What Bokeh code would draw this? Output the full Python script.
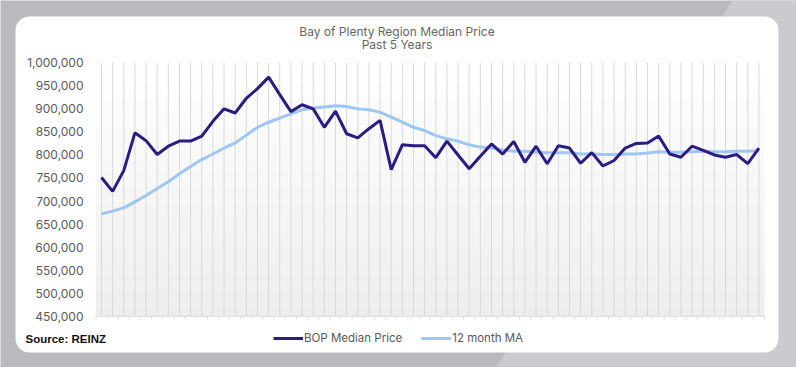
import numpy as np
from bokeh.plotting import figure
from bokeh.models import Range1d, Label, Legend, LegendItem, ColumnDataSource, BoxAnnotation, PolyAnnotation
from bokeh.core.properties import value
from bokeh.embed import file_html
from bokeh.resources import INLINE

# ---- data ----
months = list(range(60))
bop_median = [751000, 721000, 766000, 848000, 831000, 801000, 819000, 830000, 830000, 841000,
              873000, 900000, 891000, 923000, 944000, 969000, 931000, 894000, 909000, 900000,
              860000, 895000, 846000, 837000, 857000, 875000, 768000, 822000, 820000, 820000,
              794000, 830000, 800000, 770000, 797000, 824000, 802000, 829000, 784000, 819000,
              781000, 820000, 815000, 782000, 805000, 776000, 788000, 815000, 825000, 826000,
              841000, 802000, 795000, 819000, 810000, 800000, 795000, 801000, 781000, 815000]
ma_12 = [672000, 678000, 685000, 698000, 712000, 727000, 742000, 759000, 775000, 790000,
         802000, 815000, 826000, 843000, 860000, 871000, 880000, 889000, 898000, 902000,
         904000, 907000, 905000, 900000, 898000, 893000, 882000, 871000, 860000, 853000,
         842000, 835000, 830000, 822000, 817000, 815000, 811000, 808000, 808000, 806000,
         805000, 805000, 805000, 802000, 802000, 801000, 801000, 802000, 802000, 804000,
         807000, 806000, 806000, 807000, 808000, 807000, 807000, 808000, 808000, 809000]
y_ticks = [450000, 500000, 550000, 600000, 650000, 700000, 750000, 800000, 850000, 900000, 950000, 1000000]
y_tick_labels = [f"{v:,}" for v in y_ticks]
title_lines = ["Bay of Plenty Region Median Price", "Past 5 Years"]
series_names = ["BOP Median Price", "12 month MA"]
source_text = "Source: REINZ"

FONT = "Inter"
W, H = 796, 367
n = len(months)
y0, y1 = y_ticks[0], y_ticks[-1]

# ---- pixel geometry of the plotting area inside the canvas ----
PL, PR, PT, PB = 95.4, 764.0, 62.3, 315.7
ppx = (PR - PL) / n                 # pixels per month
vpp = (y1 - y0) / (PB - PT)         # value per pixel
xr0 = -0.5 - PL / ppx
xr1 = xr0 + W / ppx
yr1 = y1 + PT * vpp
yr0 = yr1 - H * vpp


def X(px):
    return xr0 + px / ppx


def Y(py):
    return yr1 - py * vpp


p = figure(width=W, height=H, output_backend="svg", toolbar_location=None,
           x_range=Range1d(xr0, xr1), y_range=Range1d(yr0, yr1),
           x_axis_location=None, y_axis_location=None,
           min_border=0, min_border_left=0, min_border_right=0,
           min_border_top=0, min_border_bottom=0)
p.border_fill_color = "#bab9be"
p.background_fill_color = "#bab9be"
p.outline_line_color = None
p.grid.visible = False

# lighter diagonal band of the page background
p.add_layout(PolyAnnotation(xs=[X(492), X(W + 5), X(W + 5), X(735)],
                            ys=[Y(H + 5), Y(H + 5), Y(-5), Y(-5)],
                            fill_color="#cbcace", fill_alpha=1, line_color=None, level="image"))

# white card
p.add_layout(BoxAnnotation(left=X(15), right=X(778), top=Y(16), bottom=Y(352),
                           fill_color="white", fill_alpha=1, line_color=None,
                           border_radius=14, level="image"))

# plot-area gradient (white at top -> light grey at bottom)
rows = 64
img = np.zeros((rows, 1), dtype=np.uint32)
view = img.view(dtype=np.uint8).reshape((rows, 1, 4))
for r in range(rows):
    t = r / (rows - 1)  # 0 bottom, 1 top
    g = int(round(238 + (255 - 238) * t))
    view[r, 0, :] = [g, g, g, 255]
gr = p.image_rgba(image=[img], x=-0.5, y=y0, dw=n, dh=y1 - y0)
gr.level = "underlay"

# vertical grid lines at each month
p.segment(x0=months, y0=[y0] * n, x1=months, y1=[y1] * n, line_color="#d9d9d9", line_width=1)
# category axis line and boundary ticks
bounds = [m - 0.5 for m in months] + [n - 0.5]
p.segment(x0=[bounds[0]], y0=[y0], x1=[bounds[-1]], y1=[y0], line_color="#d9d9d9", line_width=1)
p.segment(x0=bounds, y0=[y0] * len(bounds), x1=bounds, y1=[y0 - 3 * vpp] * len(bounds),
          line_color="#d9d9d9", line_width=1)

# y tick labels
p.text(x=[X(83)] * len(y_ticks), y=y_ticks, text=y_tick_labels, text_align="right",
       text_baseline="middle", text_font=value(FONT), text_font_size="12px", text_color="#595959")

src = ColumnDataSource(dict(x=months, bop=bop_median, ma=ma_12))
r_ma = p.line("x", "ma", source=src, line_color="#9ec6f3", line_width=3)
r_bop = p.line("x", "bop", source=src, line_color="#2d1b84", line_width=3)

# titles
for line_text, py in zip(title_lines, [31, 44.3]):
    p.add_layout(Label(x=X(396.5), y=Y(py), text=line_text, text_align="center",
                       text_baseline="middle", text_font=FONT, text_font_size="12px",
                       text_color="#666666"))

# source
p.add_layout(Label(x=X(25), y=Y(338), text=source_text, text_align="left",
                   text_baseline="middle", text_font="Liberation Sans", text_font_style="bold",
                   text_font_size="11.5px", text_color="#111111"))

legend = Legend(items=[LegendItem(label=series_names[0], renderers=[r_bop]),
                       LegendItem(label=series_names[1], renderers=[r_ma])],
                orientation="horizontal", location=(273, H - 345),
                label_text_font=FONT, label_text_font_size="11.5px", label_text_color="#595959",
                glyph_width=30, glyph_height=14, label_height=14, label_standoff=1,
                spacing=19, padding=0, margin=0,
                background_fill_alpha=0, border_line_color=None)
p.add_layout(legend)

open("out.html", "w").write(file_html(p, INLINE))
